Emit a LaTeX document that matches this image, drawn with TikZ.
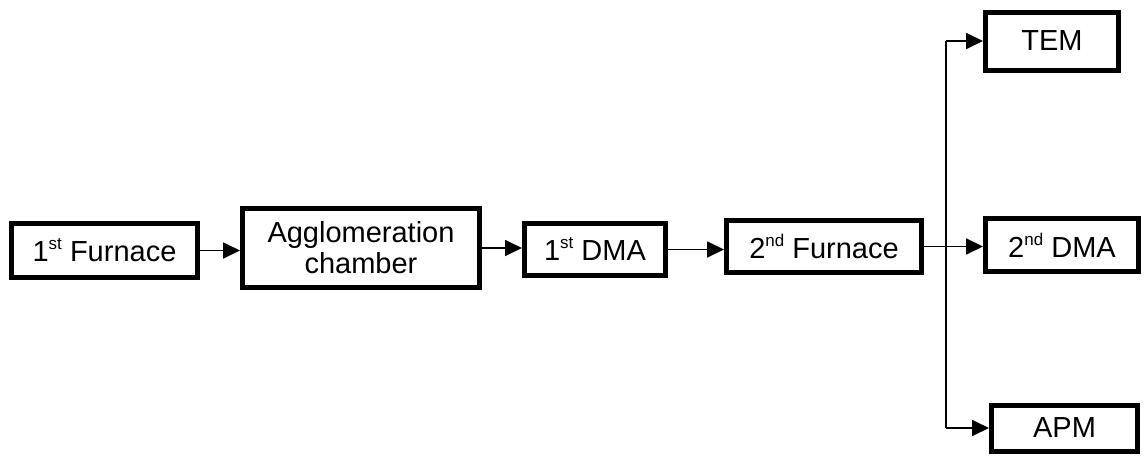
\documentclass[tikz,border=0pt]{standalone}
\usepackage{fontspec}
\setmainfont{Liberation Sans}
\usetikzlibrary{arrows.meta}
\newcommand{\supr}[1]{\raisebox{12pt}{\fontsize{17}{17}\selectfont #1}}
\tikzset{
  box/.style={draw=black, line width=5pt, fill=white, inner sep=0pt, align=center,
    font=\fontsize{29}{31}\selectfont},
  conn/.style={draw=black, line width=1.8pt},
  arr/.style={conn, -{Triangle[length=17pt, width=16pt]}}
}
\begin{document}
\begin{tikzpicture}[x=1pt, y=-1pt]
\useasboundingbox (0,0) rectangle (1145,455);
\node[box, minimum width=186pt, minimum height=54pt] (f1) at (104.5,250.5) {1\supr{st} Furnace};
\node[box, minimum width=237pt, minimum height=79pt] (agg) at (361,248) {Agglomeration\\chamber};
\node[box, minimum width=141pt, minimum height=52pt] (dma1) at (595,249.5) {1\supr{st} DMA};
\node[box, minimum width=195pt, minimum height=52pt] (f2) at (824,246.5) {2\supr{nd} Furnace};
\node[box, minimum width=133pt, minimum height=58pt] (tem) at (1052,41) {TEM};
\node[box, minimum width=153pt, minimum height=53pt] (dma2) at (1062,245) {2\supr{nd} DMA};
\node[box, minimum width=146pt, minimum height=46pt] (apm) at (1064.5,428) {APM};
\coordinate (j) at (946,247);
\draw[arr] (f1.east) -- (f1.east -| agg.west);
\draw[arr] (agg.east) -- (agg.east -| dma1.west);
\draw[arr] (dma1.east) -- (dma1.east -| f2.west);
\draw[arr] (f2.east) -- (f2.east -| dma2.west);
\draw[conn] (j |- tem.west) -- (j |- apm.west);
\draw[arr] (j |- tem.west) -- (tem.west);
\draw[arr] (j |- apm.west) -- (apm.west);
\end{tikzpicture}
\end{document}
